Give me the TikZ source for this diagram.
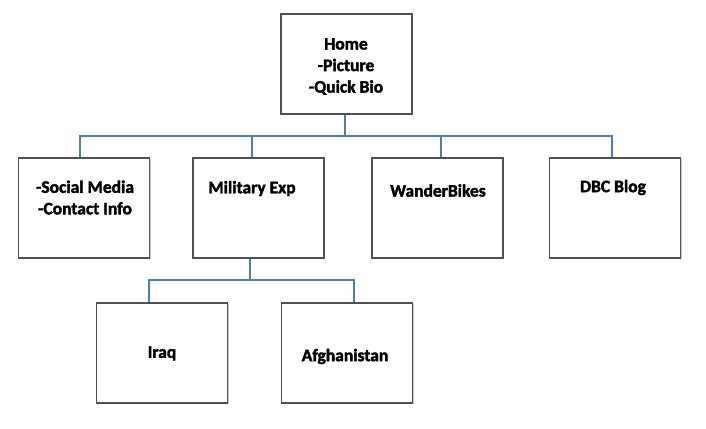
\documentclass[tikz,border=0pt]{standalone}
\usepackage{fontspec}
\setmainfont{Carlito}[BoldFeatures={FakeBold=2}]
\usetikzlibrary{shadows}
\definecolor{linkblue}{HTML}{4A7EBB}
\definecolor{boxgray}{HTML}{505050}
\begin{document}
\begin{tikzpicture}[x=1pt,y=-1pt,
  box/.style={draw=boxgray,line width=1.3pt,fill=white,minimum width=131pt,minimum height=100pt,inner sep=0pt,
    drop shadow={shadow xshift=1pt,shadow yshift=-1.2pt,fill=black!35,opacity=0.6}},
  lbl/.style={font=\fontsize{17.5}{21.5}\selectfont\bfseries,align=center,inner sep=0pt,text=black},
  conn/.style={draw=linkblue,line width=1.8pt}]
\useasboundingbox (0,0) rectangle (706,428);
% boxes
\node[box] (home) at (346.5,64) {};
\node[box] (social) at (84,208) {};
\node[box] (military) at (258.5,208) {};
\node[box] (wander) at (437.5,208) {};
\node[box] (dbc) at (615,208) {};
\node[box] (iraq) at (162,353) {};
\node[box] (afgh) at (347,353) {};
% texts
\node[lbl] (thome) at (346,66.5) {Home\\-Picture\\-Quick Bio};
\node[lbl] (tsocial) at (85,197.5) {-Social Media\\-Contact Info};
\node[lbl] (tmilitary) at (252,188.5) {Military Exp};
\node[lbl] (twander) at (438,190.5) {WanderBikes};
\node[lbl] (tdbc) at (613,187.5) {DBC Blog};
\node[lbl] (tiraq) at (162,353.5) {Iraq};
\node[lbl] (tafgh) at (345,356.5) {Afghanistan};
% connectors
\coordinate (bus1) at (345,136);
\coordinate (bus2) at (250,280);
\draw[conn] ([xshift=-1.5pt]home.south) -- (bus1);
\draw[conn] ([xshift=-4pt]social.north) |- (bus1) -| ([xshift=-3pt]dbc.north);
\draw[conn] ([xshift=-6.5pt]military.north) -- ([xshift=-6.5pt]military.north |- bus1);
\draw[conn] ([xshift=3.5pt]wander.north) -- ([xshift=3.5pt]wander.north |- bus1);
\draw[conn] ([xshift=-8.5pt]military.south) -- (bus2);
\draw[conn] ([xshift=-13pt]iraq.north) |- (bus2) -| ([xshift=7pt]afgh.north);
\end{tikzpicture}
\end{document}
